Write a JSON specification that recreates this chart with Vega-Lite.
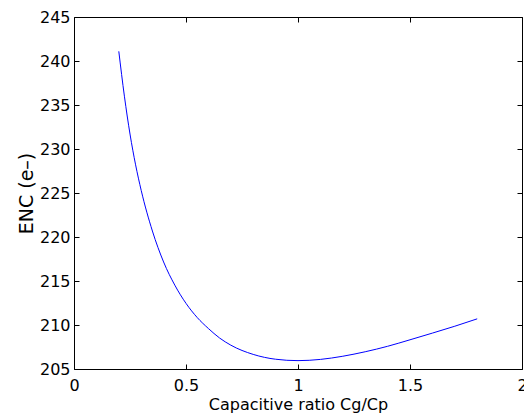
{
  "$schema": "https://vega.github.io/schema/vega-lite/v6.json",
  "autosize": {"type": "none"},
  "width": 448,
  "height": 352,
  "padding": {"left": 74, "top": 17, "right": 2, "bottom": 47},
  "background": "white",
  "config": {
    "view": {"stroke": null},
    "font": "DejaVu Sans",
    "axis": {
      "grid": false,
      "domainColor": "black",
      "domainWidth": 1,
      "tickColor": "black",
      "tickWidth": 1,
      "tickSize": -5,
      "labelColor": "black",
      "titleColor": "black",
      "labelFont": "DejaVu Sans",
      "titleFont": "DejaVu Sans",
      "labelFontSize": 16,
      "titleFontWeight": "normal"
    }
  },
  "data": {
    "values": [
      {"x": 0.2, "enc": 241.1},
      {"x": 0.225, "enc": 236.0},
      {"x": 0.25, "enc": 231.7},
      {"x": 0.275, "enc": 228.2},
      {"x": 0.3, "enc": 225.3},
      {"x": 0.35, "enc": 220.68},
      {"x": 0.4, "enc": 217.16},
      {"x": 0.45, "enc": 214.53},
      {"x": 0.5, "enc": 212.46},
      {"x": 0.55, "enc": 210.85},
      {"x": 0.6, "enc": 209.6},
      {"x": 0.65, "enc": 208.52},
      {"x": 0.7, "enc": 207.71},
      {"x": 0.8, "enc": 206.66},
      {"x": 0.9, "enc": 206.11},
      {"x": 1.0, "enc": 205.95},
      {"x": 1.1, "enc": 206.09},
      {"x": 1.2, "enc": 206.45},
      {"x": 1.3, "enc": 206.96},
      {"x": 1.4, "enc": 207.58},
      {"x": 1.5, "enc": 208.32},
      {"x": 1.6, "enc": 209.08},
      {"x": 1.7, "enc": 209.86},
      {"x": 1.8, "enc": 210.7}
    ]
  },
  "layer": [
    {
      "mark": {"type": "line", "color": "#0000ff", "strokeWidth": 1, "interpolate": "monotone"},
      "encoding": {
        "x": {
          "field": "x", "type": "quantitative",
          "scale": {"domain": [0, 2], "nice": false, "zero": false},
          "axis": {"orient": "bottom", "values": [0, 0.5, 1, 1.5, 2], "format": "~g", "labelPadding": 13, "title": "Capacitive ratio Cg/Cp", "titleFontSize": 16, "titlePadding": 3, "labelFlush": false}
        },
        "y": {
          "field": "enc", "type": "quantitative",
          "scale": {"domain": [205, 245], "nice": false, "zero": false},
          "axis": {"orient": "left", "values": [205, 210, 215, 220, 225, 230, 235, 240, 245], "labelPadding": 9, "title": "ENC (e–)", "titleFontSize": 19, "titlePadding": 3}
        }
      }
    },
    {
      "mark": {"type": "line", "color": "#0000ff", "strokeOpacity": 0, "interpolate": "monotone"},
      "encoding": {
        "x": {
          "field": "x", "type": "quantitative",
          "scale": {"domain": [0, 2], "nice": false, "zero": false},
          "axis": {"orient": "top", "values": [0, 0.5, 1, 1.5, 2], "labels": false, "title": null}
        },
        "y": {
          "field": "enc", "type": "quantitative",
          "scale": {"domain": [205, 245], "nice": false, "zero": false},
          "axis": {"orient": "right", "values": [205, 210, 215, 220, 225, 230, 235, 240, 245], "labels": false, "title": null}
        }
      }
    }
  ],
  "resolve": {"axis": {"x": "independent", "y": "independent"}}
}
